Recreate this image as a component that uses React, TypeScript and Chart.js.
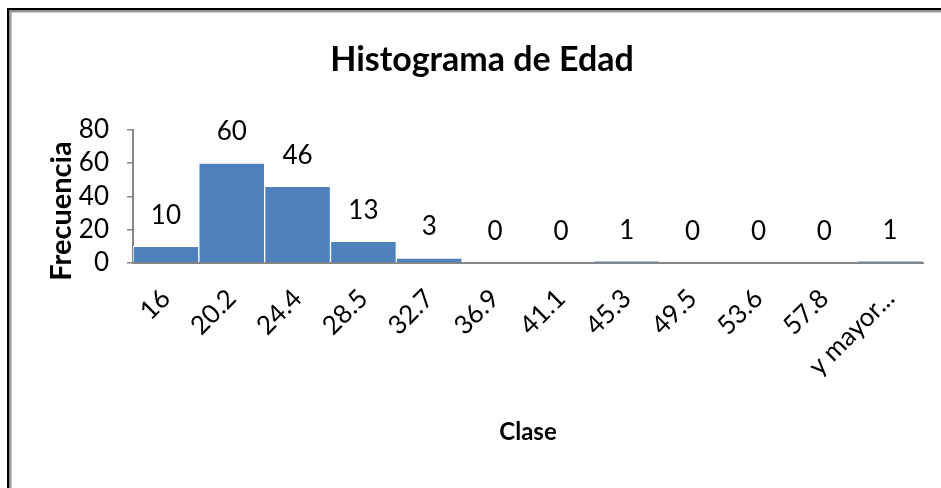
import React, { useEffect, useRef } from "react";
import { Chart, registerables } from "chart.js";

Chart.register(...registerables);

const categories = ["16", "20.2", "24.4", "28.5", "32.7", "36.9", "41.1", "45.3", "49.5", "53.6", "57.8", "y mayor..."];
const frecuencia = [10, 60, 46, 13, 3, 0, 0, 1, 0, 0, 0, 1];
const yTicks = [0, 20, 40, 60, 80];

const FONT = "Lato, 'Open Sans', sans-serif";
const AXIS_GREY = "#868686";

const framePlugin = {
  id: "frame",
  beforeDraw(chart: any) {
    const { ctx, width, height } = chart;
    ctx.save();
    ctx.fillStyle = "#ffffff";
    ctx.fillRect(0, 0, width, height);
    ctx.fillStyle = "#000000";
    ctx.fillRect(7, 8, width - 7, 2.5);
    ctx.fillRect(7, 8, 2.5, height - 8);
    ctx.fillStyle = "#9a9a9a";
    ctx.fillRect(9.5, 10.5, width - 9.5, 2);
    ctx.fillRect(9.5, 10.5, 2, height - 10.5);
    ctx.restore();
  },
};

const labelsPlugin = {
  id: "barLabels",
  afterDatasetsDraw(chart: any) {
    const { ctx } = chart;
    const meta = chart.getDatasetMeta(0);
    ctx.save();
    ctx.fillStyle = "#000000";
    ctx.font = `26px ${FONT}`;
    ctx.textAlign = "center";
    ctx.textBaseline = "middle";
    meta.data.forEach((bar: any, i: number) => {
      ctx.fillText(String(frecuencia[i]), bar.x, bar.y - 31);
    });
    ctx.restore();
  },
};

const axisTitlesPlugin = {
  id: "axisTitles",
  afterDraw(chart: any) {
    const { ctx, chartArea } = chart;
    ctx.save();
    ctx.fillStyle = "#000000";
    ctx.textAlign = "center";
    ctx.textBaseline = "middle";
    ctx.font = `bold 24px ${FONT}`;
    ctx.fillText("Clase", (chartArea.left + chartArea.right) / 2, 432);
    ctx.translate(62, 211);
    ctx.rotate(-Math.PI / 2);
    ctx.font = `bold 29px ${FONT}`;
    ctx.fillText("Frecuencia", 0, 0);
    ctx.restore();
  },
};

export default function App() {
  const canvasRef = useRef<HTMLCanvasElement | null>(null);

  useEffect(() => {
    if (!canvasRef.current) return;
    const chart = new Chart(canvasRef.current, {
      type: "bar",
      data: {
        labels: categories,
        datasets: [
          {
            label: "Frecuencia",
            data: frecuencia,
            backgroundColor: "#4F81BD",
            borderColor: "#ffffff",
            borderWidth: 1,
            categoryPercentage: 1,
            barPercentage: 1,
          },
        ],
      },
      options: {
        responsive: false,
        animation: false,
        layout: { padding: { left: 41, right: 18, top: 0, bottom: 0 } },
        plugins: {
          legend: { display: false },
          tooltip: { enabled: false },
          title: {
            display: true,
            text: "Histograma de Edad",
            color: "#000000",
            font: { family: FONT, size: 34, weight: "bold", lineHeight: 1.2 },
            padding: { top: 40, bottom: 49 },
          },
        },
        scales: {
          x: {
            grid: { display: false },
            border: { display: true, color: AXIS_GREY, width: 2 },
            ticks: {
              color: "#000000",
              font: { family: FONT, size: 26 },
              minRotation: 45,
              maxRotation: 45,
              autoSkip: false,
              padding: 12,
            },
            afterFit: (s: any) => {
              s.height = 225;
            },
          },
          y: {
            min: 0,
            max: 80,
            afterBuildTicks: (s: any) => {
              s.ticks = yTicks.map((v) => ({ value: v }));
            },
            grid: {
              drawOnChartArea: false,
              drawTicks: true,
              tickLength: 6,
              color: AXIS_GREY,
              lineWidth: 1.5,
            },
            border: { display: true, color: AXIS_GREY, width: 2 },
            ticks: {
              color: "#000000",
              font: { family: FONT, size: 26 },
              padding: 18,
              autoSkip: false,
            },
            afterFit: (s: any) => {
              s.width = 92;
            },
          },
        },
      },
      plugins: [framePlugin, labelsPlugin, axisTitlesPlugin],
    });
    return () => chart.destroy();
  }, []);

  return (
    <div style={{ position: "absolute", left: 0, top: 0, width: 941, height: 488 }}>
      <canvas ref={canvasRef} width={941} height={488} />
    </div>
  );
}
